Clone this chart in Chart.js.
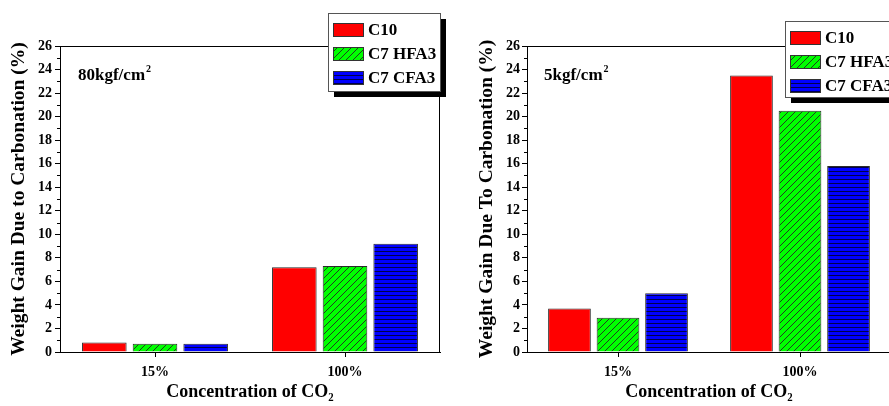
<!DOCTYPE html>
<html>
<head>
<meta charset="utf-8">
<script src="https://cdn.jsdelivr.net/npm/chart.js@4"></script>
<style>
  html, body { margin: 0; padding: 0; background: #fff; overflow: hidden; width: 889px; height: 406px; }
  .box { position: absolute; top: 0; height: 406px; }
  #left { left: 0; width: 450px; }
  #right { left: 445px; width: 460px; }
</style>
</head>
<body>
<div class="box" id="left"><canvas id="c1"></canvas></div>
<div class="box" id="right"><canvas id="c2"></canvas></div>
<script>
// data
const categories = ['15%', '100%'];
const seriesNames = ['C10', 'C7 HFA3', 'C7 CFA3'];
const c10At80 = [0.8, 7.2];
const hfa3At80 = [0.7, 7.3];
const cfa3At80 = [0.7, 9.2];
const c10At5 = [3.7, 23.5];
const hfa3At5 = [2.9, 20.5];
const cfa3At5 = [5.0, 15.8];

const FONT = "'Liberation Serif', 'Times New Roman', serif";

function diagHatch(bg, line, s) {
  const c = document.createElement('canvas');
  c.width = c.height = s;
  const x = c.getContext('2d');
  x.fillStyle = bg; x.fillRect(0, 0, s, s);
  x.strokeStyle = line; x.lineWidth = 1;
  x.beginPath();
  x.moveTo(-1, 1); x.lineTo(1, -1);
  x.moveTo(0, s); x.lineTo(s, 0);
  x.moveTo(s - 1, s + 1); x.lineTo(s + 1, s - 1);
  x.stroke();
  return x.createPattern(c, 'repeat');
}
function horizHatch(bg, line, s) {
  const c = document.createElement('canvas');
  c.width = c.height = s;
  const x = c.getContext('2d');
  x.fillStyle = bg; x.fillRect(0, 0, s, s);
  x.strokeStyle = line; x.lineWidth = 1;
  x.beginPath(); x.moveTo(0, s - 0.5); x.lineTo(s, s - 0.5); x.stroke();
  return x.createPattern(c, 'repeat');
}

const fills = ['#ff0000', diagHatch('#00ff00', '#1f3d1f', 7), horizHatch('#0000ff', '#00004d', 4)];

// frame, minor ticks, pressure label and boxed legend
const decor = {
  id: 'decor',
  afterDraw(chart, args, o) {
    const ctx = chart.ctx, a = chart.chartArea, y = chart.scales.y;
    ctx.save();
    ctx.strokeStyle = '#000'; ctx.lineWidth = 1;
    ctx.strokeRect(a.left + 0.5, a.top + 0.5, a.right - a.left - 1, a.bottom - a.top);
    ctx.beginPath();
    for (let v = 1; v < 26; v += 2) {
      const py = Math.round(y.getPixelForValue(v)) + 0.5;
      ctx.moveTo(a.left - 3, py); ctx.lineTo(a.left, py);
    }
    ctx.stroke();

    // pressure label
    ctx.fillStyle = '#000';
    ctx.textBaseline = 'alphabetic';
    ctx.font = 'bold 17px ' + FONT;
    ctx.fillText(o.label, a.left + o.labelDx, 80);
    const w = ctx.measureText(o.label).width;
    ctx.font = 'bold 10px ' + FONT;
    ctx.fillText('2', a.left + o.labelDx + w + 1, 72);

    // legend box with shadow
    const L = o.legend;
    ctx.fillStyle = '#000';
    ctx.fillRect(L.x + 6, L.y + 6, L.w, L.h);
    ctx.fillStyle = '#fff';
    ctx.fillRect(L.x, L.y, L.w, L.h);
    ctx.strokeStyle = '#555';
    ctx.strokeRect(L.x + 0.5, L.y + 0.5, L.w, L.h);
    ctx.font = 'bold 17px ' + FONT;
    ctx.textBaseline = 'middle';
    chart.data.datasets.forEach((ds, i) => {
      const cy = L.y + 16.5 + i * 24;
      ctx.fillStyle = ds.backgroundColor;
      ctx.fillRect(L.x + 5, cy - 6.5, 30, 13);
      ctx.strokeStyle = '#333';
      ctx.strokeRect(L.x + 5.5, cy - 6, 30, 13);
      ctx.fillStyle = '#000';
      ctx.fillText(ds.label, L.x + 40, cy + 1);
    });
    ctx.restore();
  }
};

function makeChart(id, values, yTitle, yWidth, titlePad, labelPad, padRight, extra) {
  return new Chart(document.getElementById(id), {
    type: 'bar',
    data: {
      labels: categories,
      datasets: values.map((v, i) => ({
        label: seriesNames[i],
        data: v,
        backgroundColor: fills[i],
        borderColor: '#2a2a2a',
        borderWidth: 1,
        categoryPercentage: 0.8,
        barPercentage: 0.88
      }))
    },
    options: {
      responsive: true,
      maintainAspectRatio: false,
      animation: false,
      layout: { padding: { top: 46, right: padRight, left: 0, bottom: 0 } },
      plugins: { legend: { display: false }, tooltip: { enabled: false }, decor: extra },
      scales: {
        x: {
          grid: { offset: false, drawOnChartArea: false, tickLength: 5, color: '#000' },
          border: { color: '#000', width: 1 },
          ticks: { color: '#000', padding: 7, font: { family: FONT, size: 14, weight: 'bold' } },
          title: { display: true, text: 'Concentration of CO₂', color: '#000', padding: { top: 0, bottom: 3 },
                   font: { family: FONT, size: 18, weight: 'bold' } },
          afterFit(s) { s.height = 54; }
        },
        y: {
          min: 0, max: 26,
          grid: { drawOnChartArea: false, tickLength: 5, color: '#000' },
          border: { color: '#000', width: 1 },
          ticks: { stepSize: 2, color: '#000', padding: labelPad, font: { family: FONT, size: 14, weight: 'bold' } },
          title: { display: true, text: yTitle, color: '#000', padding: { top: titlePad, bottom: 0 },
                   font: { family: FONT, size: 19.5, weight: 'bold' } },
          afterFit(s) { s.width = yWidth; }
        }
      }
    },
    plugins: [decor]
  });
}

makeChart('c1', [c10At80, hfa3At80, cfa3At80], 'Weight Gain Due to Carbonation (%)', 60, 7, 3, 10,
  { label: '80kgf/cm', labelDx: 18, legend: { x: 328, y: 13, w: 112, h: 78 } });
makeChart('c2', [c10At5, hfa3At5, cfa3At5], 'Weight Gain Due To Carbonation (%)', 82, 30, 2, 14,
  { label: '5kgf/cm', labelDx: 17, legend: { x: 340, y: 21, w: 112, h: 76 } });
</script>
</body>
</html>
